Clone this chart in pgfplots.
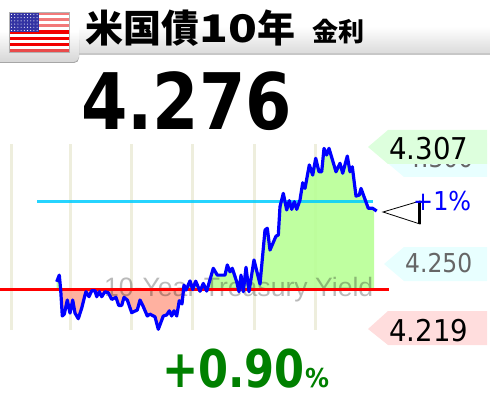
\documentclass[border=0pt]{standalone}
\usepackage{fontspec}
\usepackage{pgfplots}
\usepackage{pgfplotstable}
\pgfplotsset{compat=1.18}
\setmainfont{DejaVu Sans}
\newfontfamily\cjk{Noto Sans CJK JP}
\newfontfamily\arial{Liberation Sans}

\definecolor{gridc}{HTML}{EEEEDD}
\definecolor{upfill}{HTML}{B8FF96}
\definecolor{downfill}{HTML}{FFA996}
\definecolor{plusc}{HTML}{008000}
\definecolor{boxg}{HTML}{DDFFDD}
\definecolor{boxc}{HTML}{E8FFFF}
\definecolor{boxr}{HTML}{FFDDDD}
\definecolor{onepct}{HTML}{00CCFF}

% x = screen position of the sample, y = yield
\pgfplotstableread{
x y
56.7 4.2413
59.3 4.2445
60.7 4.2373
62.3 4.2248
64.3 4.2257
67.3 4.2325
70.0 4.2262
72.7 4.2325
75.0 4.2262
78.3 4.2235
81.7 4.2286
85.0 4.2349
86.0 4.2365
89.0 4.2341
91.7 4.2370
95.0 4.2370
96.7 4.2341
99.3 4.2365
101.7 4.2341
105.0 4.2365
108.3 4.2360
111.7 4.2328
116.0 4.2338
118.7 4.2299
121.7 4.2299
124.0 4.2338
127.3 4.2325
131.7 4.2264
137.3 4.2277
140.0 4.2325
143.3 4.2293
147.3 4.2248
150.0 4.2257
155.0 4.2244
158.3 4.2184
163.3 4.2248
166.7 4.2253
169.3 4.2273
171.7 4.2248
174.0 4.2273
176.7 4.2248
179.3 4.2322
182.0 4.2306
184.0 4.2397
186.0 4.2373
190.0 4.2417
192.7 4.2375
195.7 4.2416
200.0 4.2367
203.3 4.2405
206.7 4.2368
213.3 4.2478
217.3 4.2445
225.0 4.2445
227.3 4.2494
230.0 4.2461
232.3 4.2478
236.7 4.2413
239.0 4.2365
241.0 4.2445
243.3 4.2365
246.0 4.2483
249.0 4.2365
254.0 4.2518
260.0 4.2402
265.0 4.2662
267.3 4.2671
270.0 4.2566
276.0 4.2633
278.3 4.2638
280.0 4.2775
283.3 4.2839
286.7 4.2759
289.3 4.2804
291.7 4.2762
294.3 4.2799
296.7 4.2762
300.0 4.2807
302.7 4.2890
305.0 4.2863
309.3 4.2976
312.7 4.2927
315.7 4.3008
319.0 4.2943
321.7 4.2943
324.0 4.3056
326.7 4.3024
329.0 4.3056
336.0 4.2943
340.0 4.2984
342.7 4.2936
347.3 4.3019
350.0 4.2943
352.3 4.2967
356.0 4.2826
359.3 4.2831
361.0 4.2863
368.3 4.2767
372.7 4.2767
376.7 4.2754
}\yields

\begin{document}
\begin{tikzpicture}
\begin{axis}[
    at={(0pt,0pt)},anchor=south west,
    scale only axis,
    width=490pt,height=405pt,
    xmin=0,xmax=490,
    ymin=4.1819,ymax=4.3771,
    hide axis,
]
% time grid
\addplot[gridc,line width=3pt] coordinates {(11,4.2180)(11,4.3077)};
\addplot[gridc,line width=3pt] coordinates {(70,4.2180)(70,4.3077)};
\addplot[gridc,line width=3pt] coordinates {(131.3,4.2180)(131.3,4.3077)};
\addplot[gridc,line width=3pt] coordinates {(192.6,4.2180)(192.6,4.3077)};
\addplot[gridc,line width=3pt] coordinates {(254.3,4.2180)(254.3,4.3077)};
\addplot[gridc,line width=3pt] coordinates {(315.7,4.2180)(315.7,4.3077)};

% areas above and below the previous close
\begin{scope}
\clip (axis cs:0,4.2378) rectangle (axis cs:374,4.3771);
\addplot[draw=none,fill=upfill,fill opacity=.9] table {\yields} -- (axis cs:376.7,4.2378) -- (axis cs:56.7,4.2378) -- cycle;
\end{scope}
\begin{scope}
\clip (axis cs:0,4.2378) rectangle (axis cs:374,4.1819);
\addplot[draw=none,fill=downfill,fill opacity=.9] table {\yields} -- (axis cs:376.7,4.2378) -- (axis cs:56.7,4.2378) -- cycle;
\end{scope}

\node[anchor=base west,inner sep=0pt,text opacity=.27,font=\arial\fontsize{26.6}{26.6}\selectfont]
  at (axis cs:104,4.2344) {10-Year Treasury Yield};

\addplot[onepct,opacity=.85,line width=3pt] coordinates {(37,4.2802)(373,4.2802)};
\addplot[red,line width=3pt] coordinates {(0,4.2378)(389,4.2378)};
\addplot[blue,line width=3.2pt,line join=round] table {\yields};
\end{axis}

\begin{scope}[shift={(0pt,405pt)},x=1pt,y=-1pt]
% price boxes
\fill[boxc] (384,160) -- (404,143) -- (487,143) -- (487,177) -- (404,177) -- cycle;
\node[anchor=base west,inner sep=0pt,text=black!60] at (406,168) {\scalebox{.9}[1]{\fontsize{26}{26}\selectfont 4.300}};
\fill[boxg] (368,147) -- (388,130) -- (487,130) -- (487,164) -- (388,164) -- cycle;
\node[anchor=base west,inner sep=0pt] at (389,160) {\scalebox{.92}[1]{\fontsize{30}{30}\selectfont 4.307}};
\fill[boxc] (384,264) -- (404,247) -- (487,247) -- (487,281) -- (404,281) -- cycle;
\node[anchor=base west,inner sep=0pt,text=black!60] at (405,272) {\scalebox{.9}[1]{\fontsize{26}{26}\selectfont 4.250}};
\fill[boxr] (368,329) -- (388,311) -- (487,311) -- (487,345) -- (388,345) -- cycle;
\node[anchor=base west,inner sep=0pt] at (389,341) {\scalebox{.92}[1]{\fontsize{30}{30}\selectfont 4.219}};

% +1% marker
\draw[black,line width=.8pt] (383,212) -- (420,201) -- (420,224) -- cycle;
\draw[black,line width=3pt] (419,202) -- (419,224);
\node[anchor=base west,inner sep=0pt,text=blue] at (413,210) {\scalebox{.92}[1]{\fontsize{26}{26}\selectfont +1\%}};

% header band and tab
\shade[top color=white,bottom color=black!14,middle color=white] (79,0) rectangle (490,53);
\fill[black!22] (79,53) rectangle (490,55);
\fill[black!35] (0,63) -- (74,63) to[out=0,in=-90] (79,58) -- (79,40) -- (0,40) -- cycle;
\shade[top color=white,bottom color=black!16,middle color=white] (0,0) -- (79,0) -- (79,56) to[out=-90,in=0] (73,62) -- (0,62) -- cycle;

% flag
\begin{scope}
\fill[white] (9,12) rectangle (69,52);
\foreach \i in {0,2,...,12}{
  \pgfmathsetmacro{\top}{12+\i*40/13}
  \pgfmathsetmacro{\shadeval}{\i<6?50:100}
  \fill[red!\shadeval!white!95!black] (9,\top) rectangle (69,\top+40/13);
}
\fill[black!15!white,opacity=.35] (9,49) rectangle (69,52);
\fill[blue!55!black!80!white] (9,12) rectangle (39,32);
\foreach \a in {0,...,8}{
  \foreach \b in {0,...,5}{
    \fill[white] (11.5+\a*3.2,14.5+\b*3.2) circle (.55);
  }
}
\draw[black!30,line width=.5pt] (9,12) rectangle (69,52);
\end{scope}

% title
\node[anchor=base west,inner sep=0pt] at (85,43) {\cjk\bfseries\fontsize{38}{38}\selectfont 米国債\scalebox{1.25}[1]{10}年};
\node[anchor=base west,inner sep=0pt] at (312,42) {\cjk\bfseries\fontsize{26}{26}\selectfont 金利};

% latest and change
\node[anchor=base west,inner sep=0pt] at (81,130) {\bfseries\scalebox{.855}[1]{\fontsize{78}{78}\selectfont 4.276}};
\node[anchor=base west,inner sep=0pt,text=plusc] at (162,387) {\bfseries\scalebox{.83}[1]{\fontsize{52}{52}\selectfont +0.90}};
\node[anchor=base west,inner sep=0pt,text=plusc] at (305,387) {\bfseries\scalebox{.92}[1]{\fontsize{26}{26}\selectfont \%}};
\end{scope}
\end{tikzpicture}
\end{document}
